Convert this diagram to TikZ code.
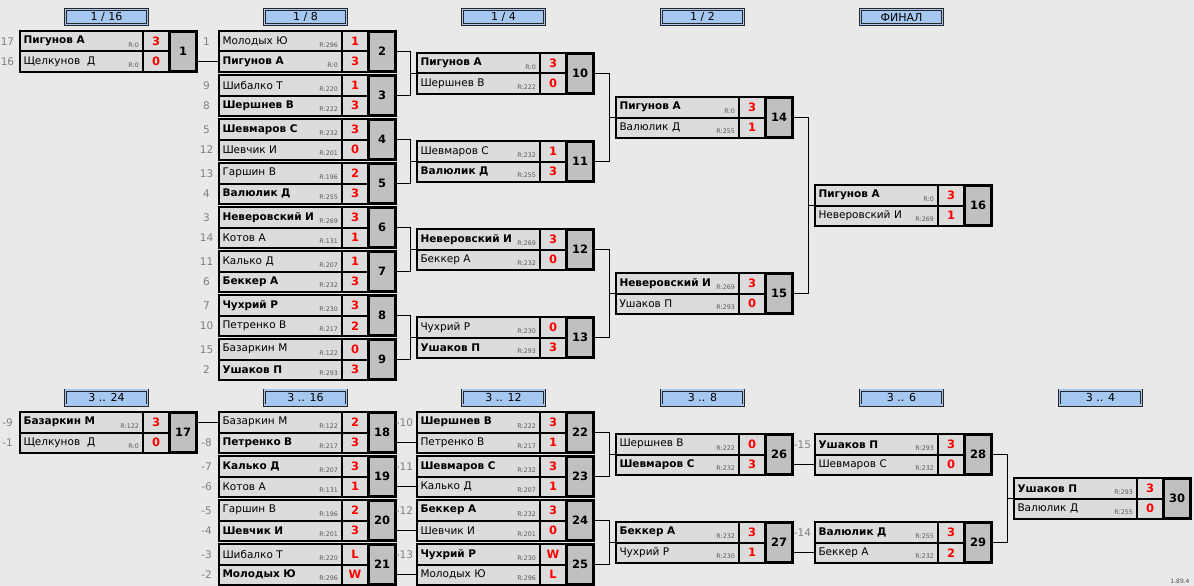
\documentclass[tikz,border=0pt]{standalone}
\usepackage{fontspec}
\setmainfont{DejaVu Sans}
\usetikzlibrary{fit,calc}
\definecolor{bgcol}{HTML}{E9E9E9}
\definecolor{cellgray}{HTML}{DCDCDC}
\definecolor{numgray}{HTML}{C0C0C0}
\definecolor{hdrblue}{HTML}{A6C8F0}
\definecolor{seedgray}{HTML}{808080}
\tikzset{
    namecell/.style={draw=black, line width=1pt, fill=cellgray, text width=116pt, inner xsep=3pt, inner ysep=0pt,
      minimum height=19.5pt, align=left, font=\fontsize{10.5}{12}\selectfont},
    scorecell/.style={draw=black, line width=1pt, fill=cellgray, minimum width=25pt, minimum height=19.5pt,
      inner sep=0pt, text=red, font=\bfseries\fontsize{11.5}{12}\selectfont},
    numcell/.style={draw=black, line width=2.2pt, fill=numgray, minimum width=26pt, minimum height=39pt,
      inner sep=0pt, font=\bfseries\fontsize{11.5}{12}\selectfont},
    matchframe/.style={draw=black, line width=2.2pt, inner sep=0pt},
    rtg/.style={inner sep=0pt, text=black!65, font=\fontsize{6.3}{7}\selectfont},
    seed/.style={inner sep=0pt, text=seedgray, font=\fontsize{10.5}{12}\selectfont},
    hdr/.style={draw=black!85, line width=0.9pt, double=hdrblue, double distance=1.2pt, fill=hdrblue,
      minimum width=82pt, minimum height=15pt, inner sep=0pt, font=\fontsize{11}{12}\selectfont},
    wire/.style={draw=black, line width=1pt},
  }
% match : numero, x, y (haut), joueur 1, R, score, joueur 2, R, score
\newcommand{\matchbox}[9]{%
  \node[namecell, anchor=north west] (m#1a) at (#2,#3) {#4};
  \node[scorecell, anchor=north west] (m#1sa) at (m#1a.north east) {#6};
  \node[namecell, anchor=north west] (m#1b) at (m#1a.south west) {#7};
  \node[scorecell, anchor=north west] (m#1sb) at (m#1b.north east) {#9};
  \node[rtg, anchor=base east] at ([xshift=-4pt, yshift=4.4pt]m#1a.south east) {R:#5};
  \node[rtg, anchor=base east] at ([xshift=-4pt, yshift=4.4pt]m#1b.south east) {R:#8};
  \node[numcell, anchor=north west] (m#1n) at (m#1sa.north east) {#1};
  \node[matchframe, fit=(m#1a)(m#1sb)(m#1n)] (m#1) {};
}

\begin{document}
\begin{tikzpicture}[x=1pt, y=-1pt]
          %fond
          \fill[bgcol] (0,0) rectangle (1194,586);
          \useasboundingbox (0,0) rectangle (1194,586);

          %titres des tours
          \node[hdr] (h1) at (106.5,17) {1 / 16};
          \node[hdr] (h2) at (305.5,17) {1 / 8};
          \node[hdr] (h3) at (503.5,17) {1 / 4};
          \node[hdr] (h4) at (702.5,17) {1 / 2};
          \node[hdr] (h5) at (901.5,17) {ФИНАЛ};
          \node[hdr] (h6) at (106.5,397.5) {3 .. 24};
          \node[hdr] (h7) at (305.5,397.5) {3 .. 16};
          \node[hdr] (h8) at (503.5,397.5) {3 .. 12};
          \node[hdr] (h9) at (702.5,397.5) {3 .. 8};
          \node[hdr] (h10) at (901.5,397.5) {3 .. 6};
          \node[hdr] (h11) at (1100.5,397.5) {3 .. 4};

          %tableau principal
          \matchbox{1}{20}{31}{\textbf{Пигунов А}}{0}{3}{Щелкунов~~Д}{0}{0}
          \matchbox{2}{219}{31}{Молодых Ю}{296}{1}{\textbf{Пигунов А}}{0}{3}
          \matchbox{3}{219}{75}{Шибалко Т}{220}{1}{\textbf{Шершнев В}}{222}{3}
          \matchbox{4}{219}{119}{\textbf{Шевмаров С}}{232}{3}{Шевчик И}{201}{0}
          \matchbox{5}{219}{163}{Гаршин В}{196}{2}{\textbf{Валюлик Д}}{255}{3}
          \matchbox{6}{219}{207}{\textbf{Неверовский И}}{269}{3}{Котов А}{131}{1}
          \matchbox{7}{219}{251}{Калько Д}{207}{1}{\textbf{Беккер А}}{232}{3}
          \matchbox{8}{219}{295}{\textbf{Чухрий Р}}{230}{3}{Петренко В}{217}{2}
          \matchbox{9}{219}{339}{Базаркин М}{122}{0}{\textbf{Ушаков П}}{293}{3}
          \matchbox{10}{417}{53}{\textbf{Пигунов А}}{0}{3}{Шершнев В}{222}{0}
          \matchbox{11}{417}{141}{Шевмаров С}{232}{1}{\textbf{Валюлик Д}}{255}{3}
          \matchbox{12}{417}{229}{\textbf{Неверовский И}}{269}{3}{Беккер А}{232}{0}
          \matchbox{13}{417}{317}{Чухрий Р}{230}{0}{\textbf{Ушаков П}}{293}{3}
          \matchbox{14}{616}{97}{\textbf{Пигунов А}}{0}{3}{Валюлик Д}{255}{1}
          \matchbox{15}{616}{273}{\textbf{Неверовский И}}{269}{3}{Ушаков П}{293}{0}
          \matchbox{16}{815}{185}{\textbf{Пигунов А}}{0}{3}{Неверовский И}{269}{1}

          %tableau des places 3..24
          \matchbox{17}{20}{412}{\textbf{Базаркин М}}{122}{3}{Щелкунов~~Д}{0}{0}
          \matchbox{18}{219}{412}{Базаркин М}{122}{2}{\textbf{Петренко В}}{217}{3}
          \matchbox{19}{219}{456}{\textbf{Калько Д}}{207}{3}{Котов А}{131}{1}
          \matchbox{20}{219}{500}{Гаршин В}{196}{2}{\textbf{Шевчик И}}{201}{3}
          \matchbox{21}{219}{544}{Шибалко Т}{220}{L}{\textbf{Молодых Ю}}{296}{W}
          \matchbox{22}{417}{412}{\textbf{Шершнев В}}{222}{3}{Петренко В}{217}{1}
          \matchbox{23}{417}{456}{\textbf{Шевмаров С}}{232}{3}{Калько Д}{207}{1}
          \matchbox{24}{417}{500}{\textbf{Беккер А}}{232}{3}{Шевчик И}{201}{0}
          \matchbox{25}{417}{544}{\textbf{Чухрий Р}}{230}{W}{Молодых Ю}{296}{L}
          \matchbox{26}{616}{434}{Шершнев В}{222}{0}{\textbf{Шевмаров С}}{232}{3}
          \matchbox{27}{616}{522}{\textbf{Беккер А}}{232}{3}{Чухрий Р}{230}{1}
          \matchbox{28}{815}{434}{\textbf{Ушаков П}}{293}{3}{Шевмаров С}{232}{0}
          \matchbox{29}{815}{522}{\textbf{Валюлик Д}}{255}{3}{Беккер А}{232}{2}
          \matchbox{30}{1014}{478}{\textbf{Ушаков П}}{293}{3}{Валюлик Д}{255}{0}

          %numeros de depart
          \node[seed] at ([xshift=-12.5pt]m1a.west) {17};
          \node[seed] at ([xshift=-12.5pt]m1b.west) {16};
          \node[seed] at ([xshift=-12.5pt]m2a.west) {1};
          \node[seed] at ([xshift=-12.5pt]m3a.west) {9};
          \node[seed] at ([xshift=-12.5pt]m3b.west) {8};
          \node[seed] at ([xshift=-12.5pt]m4a.west) {5};
          \node[seed] at ([xshift=-12.5pt]m4b.west) {12};
          \node[seed] at ([xshift=-12.5pt]m5a.west) {13};
          \node[seed] at ([xshift=-12.5pt]m5b.west) {4};
          \node[seed] at ([xshift=-12.5pt]m6a.west) {3};
          \node[seed] at ([xshift=-12.5pt]m6b.west) {14};
          \node[seed] at ([xshift=-12.5pt]m7a.west) {11};
          \node[seed] at ([xshift=-12.5pt]m7b.west) {6};
          \node[seed] at ([xshift=-12.5pt]m8a.west) {7};
          \node[seed] at ([xshift=-12.5pt]m8b.west) {10};
          \node[seed] at ([xshift=-12.5pt]m9a.west) {15};
          \node[seed] at ([xshift=-12.5pt]m9b.west) {2};
          \node[seed] at ([xshift=-12.5pt]m17a.west) {-9};
          \node[seed] at ([xshift=-12.5pt]m17b.west) {-1};
          \node[seed] at ([xshift=-12.5pt]m18b.west) {-8};
          \node[seed] at ([xshift=-12.5pt]m19a.west) {-7};
          \node[seed] at ([xshift=-12.5pt]m19b.west) {-6};
          \node[seed] at ([xshift=-12.5pt]m20a.west) {-5};
          \node[seed] at ([xshift=-12.5pt]m20b.west) {-4};
          \node[seed] at ([xshift=-12.5pt]m21a.west) {-3};
          \node[seed] at ([xshift=-12.5pt]m21b.west) {-2};
          \node[seed] at ([xshift=-12.5pt]m22a.west) {-10};
          \node[seed] at ([xshift=-12.5pt]m23a.west) {-11};
          \node[seed] at ([xshift=-12.5pt]m24a.west) {-12};
          \node[seed] at ([xshift=-12.5pt]m25a.west) {-13};
          \node[seed] at ([xshift=-12.5pt]m28a.west) {-15};
          \node[seed] at ([xshift=-12.5pt]m29a.west) {-14};

          %liaisons
          \draw[wire] (m1.east |- m2b.west) -- (m2b.west);
          \draw[wire] (m2.east) -- ++(13,0) |- (m10.west);
          \draw[wire] (m3.east) -- ++(13,0) |- (m10.west);
          \draw[wire] (m4.east) -- ++(13,0) |- (m11.west);
          \draw[wire] (m5.east) -- ++(13,0) |- (m11.west);
          \draw[wire] (m6.east) -- ++(13,0) |- (m12.west);
          \draw[wire] (m7.east) -- ++(13,0) |- (m12.west);
          \draw[wire] (m8.east) -- ++(13,0) |- (m13.west);
          \draw[wire] (m9.east) -- ++(13,0) |- (m13.west);
          \draw[wire] (m10.east) -- ++(14,0) |- (m14.west);
          \draw[wire] (m11.east) -- ++(14,0) |- (m14.west);
          \draw[wire] (m12.east) -- ++(14,0) |- (m15.west);
          \draw[wire] (m13.east) -- ++(14,0) |- (m15.west);
          \draw[wire] (m14.east) -- ++(14,0) |- (m16.west);
          \draw[wire] (m15.east) -- ++(14,0) |- (m16.west);

          \draw[wire] (m17.east |- m18a.west) -- (m18a.west);
          \draw[wire] (m18.east |- m22b.west) -- (m22b.west);
          \draw[wire] (m19.east |- m23b.west) -- (m23b.west);
          \draw[wire] (m20.east |- m24b.west) -- (m24b.west);
          \draw[wire] (m21.east |- m25b.west) -- (m25b.west);
          \draw[wire] (m22.east) -- ++(14,0) |- (m26.west);
          \draw[wire] (m23.east) -- ++(14,0) |- (m26.west);
          \draw[wire] (m24.east) -- ++(14,0) |- (m27.west);
          \draw[wire] (m25.east) -- ++(14,0) |- (m27.west);
          \draw[wire] (m26.east |- m28b.west) -- (m28b.west);
          \draw[wire] (m27.east |- m29b.west) -- (m29b.west);
          \draw[wire] (m28.east) -- ++(14,0) |- (m30.west);
          \draw[wire] (m29.east) -- ++(14,0) |- (m30.west);

          \node[inner sep=0pt, text=black!70, font=\fontsize{6}{7}\selectfont] (ver) at (1180,581) {1.89.4};
\end{tikzpicture}
\end{document}
